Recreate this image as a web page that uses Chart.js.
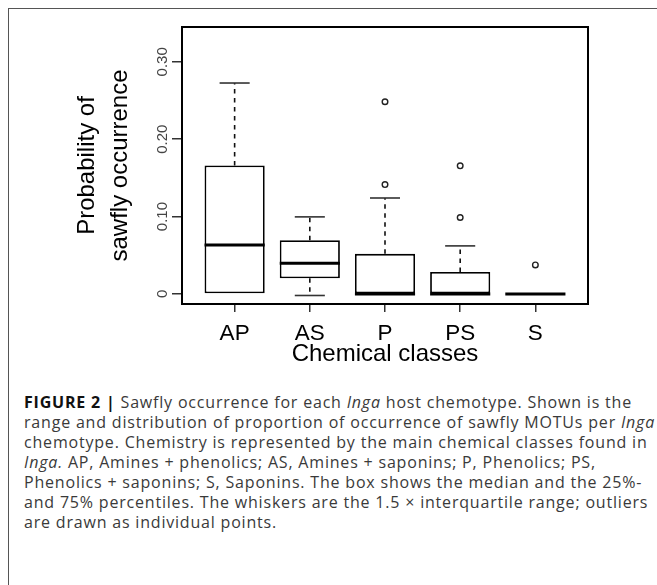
<!DOCTYPE html>
<html>
<head>
<meta charset="utf-8">
<script src="https://cdn.jsdelivr.net/npm/chart.js@4.4.0/dist/chart.umd.min.js"></script>
<style>
html,body{margin:0;padding:0;background:#fff;}
#wrap{position:relative;width:657px;height:585px;overflow:hidden;background:#fff;}
#frame{position:absolute;left:8px;top:8px;width:800px;height:800px;border-top:1px solid #555;border-left:1px solid #555;}
#c{position:absolute;left:0;top:0;}
#cap{position:absolute;left:24px;top:392px;font-family:"Open Sans",sans-serif;font-size:16px;line-height:20px;color:#3a3a3a;white-space:nowrap;}
#cap b{color:#111;font-weight:700;}
#cap .ln{display:block;height:20px;}
</style>
</head>
<body>
<div id="wrap">
<div id="frame"></div>
<canvas id="c" width="657" height="385"></canvas>
<div id="cap">
<span class="ln" id="l1"><b>FIGURE 2 |</b> Sawfly occurrence for each <i>Inga</i> host chemotype. Shown is the</span>
<span class="ln">range and distribution of proportion of occurrence of sawfly MOTUs per <i>Inga</i></span>
<span class="ln">chemotype. Chemistry is represented by the main chemical classes found in</span>
<span class="ln"><i>Inga.</i> AP, Amines + phenolics; AS, Amines + saponins; P, Phenolics; PS,</span>
<span class="ln">Phenolics + saponins; S, Saponins. The box shows the median and the 25%-</span>
<span class="ln">and 75% percentiles. The whiskers are the 1.5 × interquartile range; outliers</span>
<span class="ln">are drawn as individual points.</span>
</div>
</div>
<script>
// ---- data ----
const categories = ['AP', 'AS', 'P', 'PS', 'S'];
const whiskerLow = [0, -0.002, 0, 0, 0];
const q1 = [0, 0.0203, 0, 0, 0];
const median = [0.0634, 0.0397, 0, 0, 0];
const q3 = [0.166, 0.0695, 0.0518, 0.0283, 0];
const whiskerHigh = [0.2726, 0.0996, 0.124, 0.0621, 0];
const outliersAP = [];
const outliersAS = [];
const outliersP = [0.1414, 0.2484];
const outliersPS = [0.0988, 0.1656];
const outliersS = [0.0375];
const yTicks = [0, 0.1, 0.2, 0.3];
const yTickLabels = ['0', '0.10', '0.20', '0.30'];

// ---- fit caption width with letter spacing ----
(function(){
  const l1 = document.getElementById('l1');
  const cap = document.getElementById('cap');
  l1.style.display = 'inline';
  const w = l1.getBoundingClientRect().width;
  const n = l1.textContent.length;
  const ls = (608 - w) / n;
  cap.style.letterSpacing = ls.toFixed(3) + 'px';
  l1.style.display = 'block';
})();

const positions = categories.map((_, i) => i + 1);
const outliers = [outliersAP, outliersAS, outliersP, outliersPS, outliersS];
const boxData = positions.map((p, i) => ({x: p, y: [q1[i], q3[i]]}));
const outlierData = [];
outliers.forEach((arr, i) => arr.forEach(v => outlierData.push({x: positions[i], y: v})));

const BOX_W = 0.8, STAPLE_W = 0.4;

const boxParts = {
  id: 'boxParts',
  afterDatasetsDraw(chart) {
    const {ctx, scales: {x, y}} = chart;
    ctx.save();
    positions.forEach((p, i) => {
      const cx = x.getPixelForValue(p);
      const bl = x.getPixelForValue(p - BOX_W / 2), br = x.getPixelForValue(p + BOX_W / 2);
      const sl = x.getPixelForValue(p - STAPLE_W / 2), sr = x.getPixelForValue(p + STAPLE_W / 2);
      const yq1 = y.getPixelForValue(q1[i]), yq3 = y.getPixelForValue(q3[i]);
      const ylo = y.getPixelForValue(whiskerLow[i]), yhi = y.getPixelForValue(whiskerHigh[i]);
      const ymed = y.getPixelForValue(median[i]);
      ctx.strokeStyle = '#111';
      ctx.lineWidth = 1.6;
      ctx.setLineDash([4.5, 4.5]);
      if (whiskerHigh[i] > q3[i]) { ctx.beginPath(); ctx.moveTo(cx, yq3); ctx.lineTo(cx, yhi); ctx.stroke(); }
      if (whiskerLow[i] < q1[i]) { ctx.beginPath(); ctx.moveTo(cx, yq1); ctx.lineTo(cx, ylo); ctx.stroke(); }
      ctx.setLineDash([]);
      ctx.strokeStyle = '#333';
      if (whiskerHigh[i] > q3[i]) { ctx.beginPath(); ctx.moveTo(sl, yhi); ctx.lineTo(sr, yhi); ctx.stroke(); }
      if (whiskerLow[i] < q1[i]) { ctx.beginPath(); ctx.moveTo(sl, ylo); ctx.lineTo(sr, ylo); ctx.stroke(); }
      ctx.strokeStyle = '#000';
      ctx.lineWidth = 3;
      ctx.beginPath(); ctx.moveTo(bl, ymed); ctx.lineTo(br, ymed); ctx.stroke();
    });
    ctx.restore();
  },
  afterDraw(chart) {
    const {ctx, chartArea: a} = chart;
    ctx.save();
    ctx.strokeStyle = '#000';
    ctx.lineWidth = 2;
    ctx.strokeRect(a.left, a.top, a.right - a.left, a.bottom - a.top);
    ctx.restore();
  }
};

new Chart(document.getElementById('c'), {
  data: {
    datasets: [
      {
        type: 'bar',
        data: boxData,
        backgroundColor: '#fff',
        borderColor: '#000',
        borderWidth: 1.8,
        borderSkipped: false,
        barPercentage: 0.8,
        categoryPercentage: 1.0
      },
      {
        type: 'scatter',
        data: outlierData,
        pointStyle: 'circle',
        pointRadius: 2.8,
        pointBorderWidth: 1.4,
        pointBorderColor: '#222',
        pointBackgroundColor: 'rgba(0,0,0,0)'
      }
    ]
  },
  options: {
    responsive: false,
    animation: false,
    devicePixelRatio: 1,
    layout: {padding: {left: 0, top: 27, right: 69, bottom: 0}},
    plugins: {legend: {display: false}, tooltip: {enabled: false}},
    scales: {
      x: {
        type: 'linear',
        min: 0.3, max: 5.7,
        offset: false,
        grid: {offset: false, drawOnChartArea: false, drawTicks: true, tickLength: 8, color: '#333', lineWidth: 1.5},
        border: {display: false},
        afterBuildTicks: (s) => { s.ticks = positions.map(v => ({value: v})); },
        afterFit: (s) => { s.height = 81; },
        ticks: {
          callback: (v) => categories[Math.round(v) - 1],
          font: {family: 'Liberation Sans', size: 22.5},
          color: '#000',
          padding: 8.5,
          maxRotation: 0, minRotation: 0, autoSkip: false
        },
        title: {
          display: true,
          text: 'Chemical classes',
          font: {family: 'Liberation Sans', size: 24, lineHeight: 1.2},
          color: '#000',
          padding: {top: 0, bottom: 16}
        }
      },
      y: {
        type: 'linear',
        min: -0.013, max: 0.345,
        grid: {drawOnChartArea: false, drawTicks: true, tickLength: 10, color: '#333', lineWidth: 1.5},
        border: {display: false},
        afterBuildTicks: (s) => { s.ticks = yTicks.map(v => ({value: v})); },
        afterFit: (s) => { s.width = 182; },
        ticks: {
          callback: (v, i) => yTickLabels[i],
          font: {family: 'Liberation Sans', size: 15},
          color: '#444',
          minRotation: 90, maxRotation: 90,
          crossAlign: 'center',
          padding: -5,
          autoSkip: false
        },
        title: {
          display: true,
          text: ['Probability of', 'sawfly occurrence'],
          font: {family: 'Liberation Sans', size: 24, lineHeight: 1.35},
          color: '#000',
          padding: {top: 71.4, bottom: 0}
        }
      }
    }
  },
  plugins: [boxParts]
});
</script>
</body>
</html>
